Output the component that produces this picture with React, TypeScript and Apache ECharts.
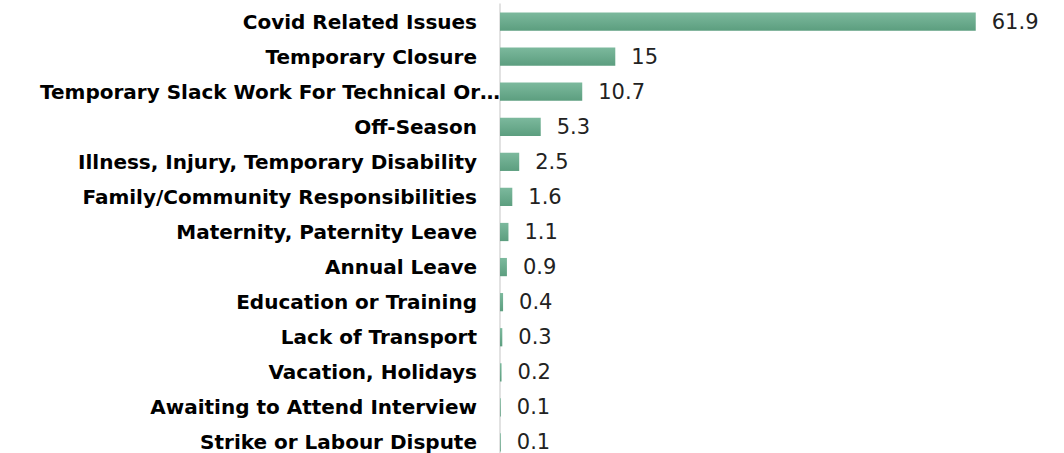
import React, { useEffect, useRef } from "react";
import * as echarts from "echarts";

const categories = [
  "Covid Related Issues",
  "Temporary Closure",
  "Temporary Slack Work For Technical Or…",
  "Off-Season",
  "Illness, Injury, Temporary Disability",
  "Family/Community Responsibilities",
  "Maternity, Paternity Leave",
  "Annual Leave",
  "Education or Training",
  "Lack of Transport",
  "Vacation, Holidays",
  "Awaiting to Attend Interview",
  "Strike or Labour Dispute",
];
const values = [61.9, 15, 10.7, 5.3, 2.5, 1.6, 1.1, 0.9, 0.4, 0.3, 0.2, 0.1, 0.1];
const truncatedCategory = "Temporary Slack Work For Technical Or…";

export default function App() {
  const ref = useRef<HTMLDivElement>(null);
  useEffect(() => {
    const chart = echarts.init(ref.current!, null, { renderer: "svg" });
    const labelFont = {
      color: "#000",
      fontFamily: "DejaVu Sans",
      fontWeight: "bold" as const,
      fontSize: 20,
    };
    chart.setOption({
      animation: false,
      grid: { left: 500, top: 4, width: 538, height: 456, containLabel: false },
      xAxis: {
        type: "value",
        min: 0,
        max: 70,
        show: false,
      },
      yAxis: {
        type: "category",
        inverse: true,
        data: categories,
        axisLine: { show: true, lineStyle: { color: "#d9d9d9", width: 1.5 } },
        axisTick: { show: false },
        axisLabel: {
          margin: 0,
          ...labelFont,
          formatter: (v: string) => (v === truncatedCategory ? `{s|${v}}` : `{n|${v}}`),
          rich: {
            n: { ...labelFont, padding: [0, 23, 0, 0] },
            s: { ...labelFont, padding: [0, 0, 0, 0] },
          },
        },
      },
      series: [
        {
          type: "bar",
          data: values,
          barCategoryGap: "48%",
          itemStyle: {
            color: new echarts.graphic.LinearGradient(0, 0, 0, 1, [
              { offset: 0, color: "#7cb99d" },
              { offset: 1, color: "#5c9e7f" },
            ]),
          },
          label: {
            show: true,
            position: "right",
            distance: 16,
            color: "#222",
            fontFamily: "DejaVu Sans",
            fontSize: 21,
            fontWeight: "normal",
          },
        },
      ],
    });
    return () => chart.dispose();
  }, []);
  return (
    <div style={{ position: "fixed", left: 0, top: 0, width: 1064, height: 453, overflow: "hidden", background: "#fff" }}>
      <div ref={ref} style={{ width: 1064, height: 470 }} />
    </div>
  );
}
